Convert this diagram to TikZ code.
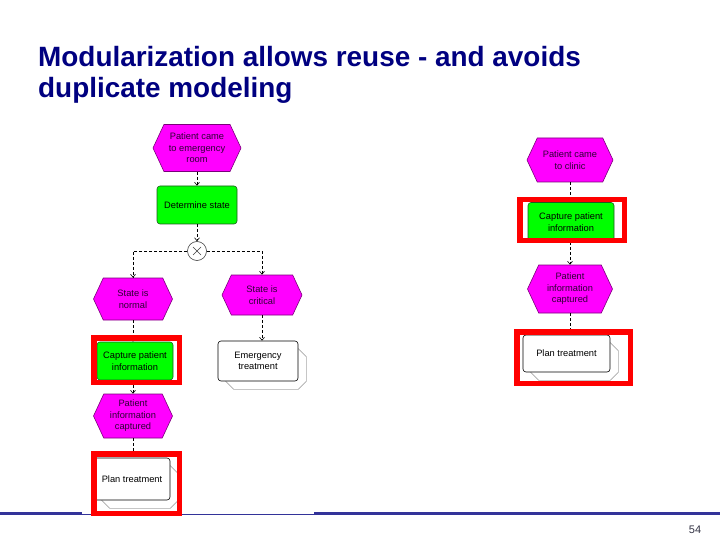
\documentclass[tikz,border=0pt]{standalone}
\usepackage{fontspec}
\setmainfont{Liberation Sans}
\usetikzlibrary{shapes.symbols,arrows.meta}
\definecolor{evfill}{HTML}{FF00FF}
\definecolor{evline}{HTML}{7A007A}
\definecolor{evtext}{HTML}{2E0035}
\definecolor{fnfill}{HTML}{00FF00}
\definecolor{fnline}{HTML}{1E5A1E}
\definecolor{framered}{HTML}{FF0000}
\definecolor{titleblue}{HTML}{000080}
\definecolor{rulecol}{HTML}{333399}
\definecolor{shadowgray}{HTML}{A8A8A8}
\definecolor{pagecol}{HTML}{333344}
\newcommand{\pifshadow}[1]{%
  \filldraw[draw=shadowgray, fill=white, line width=0.6pt]
    ([shift={(8,8)}]#1.north west) -- ([shift={(0,8)}]#1.north east)
    -- ([shift={(8,16)}]#1.north east) -- ([shift={(8,0)}]#1.south east)
    -- ([shift={(0,8)}]#1.south east) -- ([shift={(16,8)}]#1.south west)
    -- ([shift={(8,0)}]#1.south west) -- cycle;}
\begin{document}
\begin{tikzpicture}[x=1pt,y=-1pt,
  lbl/.style={font=\fontsize{9.3}{11.5}\selectfont, align=center},
  evt/.style={lbl, signal, signal to=east and west, signal pointer angle=130,
    draw=evline, fill=evfill, text=evtext, inner sep=1pt, line width=0.6pt},
  fn/.style={lbl, rectangle, rounded corners=3pt, draw=fnline, fill=fnfill,
    text=black, inner sep=1pt, line width=0.6pt},
  pif/.style={lbl, rectangle, rounded corners=3pt, draw=black, fill=white,
    text=black, inner sep=1pt, line width=0.6pt},
  conn/.style={dash pattern=on 3pt off 2pt, line width=0.6pt,
    -{Straight Barb[length=3pt,width=5pt]}},
  plain/.style={dash pattern=on 3pt off 2pt, line width=0.6pt},
  redframe/.style={draw=framered, line width=5.5pt},
  xorc/.style={circle, draw=black!75, fill=white, minimum size=19pt, inner sep=0pt,
    line width=0.6pt,
    path picture={
      \draw[line width=0.6pt] ([shift={(-4pt,-4pt)}]path picture bounding box.center)
        -- ([shift={(4pt,4pt)}]path picture bounding box.center);
      \draw[line width=0.6pt] ([shift={(-4pt,4pt)}]path picture bounding box.center)
        -- ([shift={(4pt,-4pt)}]path picture bounding box.center);}}
]
\useasboundingbox (0,0) rectangle (720,540);

% title
\node[anchor=base west, inner sep=0pt, text=titleblue,
  font=\fontsize{27.9}{32}\selectfont\bfseries] (t1) at (38,67)
  {Modularization allows reuse - and avoids};
\node[anchor=base west, inner sep=0pt, text=titleblue,
  font=\fontsize{27.9}{32}\selectfont\bfseries] (t2) at (38,98)
  {duplicate modeling};

% bottom rule
\draw[rulecol, line width=3pt] (0,513.5) -- (82,513.5);
\draw[rulecol, line width=1pt] (82,514) -- (314,514);
\draw[rulecol, line width=3pt] (314,513.5) -- (720,513.5);
\node[font=\fontsize{11}{13}\selectfont, text=pagecol] (pg) at (695,530) {54};

% ---------- left model ----------
\node[evt, minimum width=88pt, minimum height=47pt] (e1) at (197,148)
  {Patient came\\to emergency\\room};
\node[fn, minimum width=80pt, minimum height=38pt] (f1) at (197,205) {Determine state};
\node[xorc] (x1) at (197,251) {};
\node[evt, minimum width=79pt, minimum height=42pt] (n1) at (133,299) {State is\\normal};
\node[evt, minimum width=80pt, minimum height=40pt] (c1) at (262,295) {State is\\critical};
\node[fn, minimum width=76pt, minimum height=38pt] (cap1) at (135,361)
  {Capture patient\\information};
\node[evt, minimum width=79pt, minimum height=44pt] (p1) at (133,416)
  {Patient\\information\\captured};
\path (258,361) node[pif, minimum width=80pt, minimum height=40pt, opacity=0] (emg) {};
\pifshadow{emg}
\node[pif, minimum width=80pt, minimum height=40pt] (em) at (258,361)
  {Emergency\\treatment};
\path (132,479) node[pif, minimum width=76pt, minimum height=42pt, opacity=0] (pl1g) {};
\pifshadow{pl1g}
\node[pif, minimum width=76pt, minimum height=42pt] (pl1) at (132,479) {Plan treatment};

\draw[conn] (e1.south) -- (f1.north);
\draw[conn] (f1.south) -- (x1.north);
\draw[conn] (x1.west) -| (n1.north);
\draw[conn] (x1.east) -| (c1.north);
\draw[conn] (n1.south) -- (n1.south |- cap1.north);
\draw[conn] (c1.south) -- (c1.south |- em.north);
\draw[conn] (p1.north |- cap1.south) -- (p1.north);
\draw[plain] (p1.south) -- (p1.south |- pl1.north);

\draw[redframe] (93.75,337.75) rectangle (179.25,382.25);
\draw[redframe] (93.75,453.75) rectangle (179.25,513.25);

% ---------- right model ----------
\node[evt, minimum width=86pt, minimum height=44pt] (e2) at (570,160)
  {Patient came\\to clinic};
\node[fn, minimum width=86pt, minimum height=39pt] (cap2) at (571,222)
  {Capture patient\\information};
\node[evt, minimum width=85pt, minimum height=48pt] (p2) at (570,289)
  {Patient\\information\\captured};
\path (566.5,353.5) node[pif, minimum width=87pt, minimum height=37pt, opacity=0] (pl2g) {};
\pifshadow{pl2g}
\node[pif, minimum width=87pt, minimum height=37pt] (pl2) at (566.5,353.5) {Plan treatment};

\draw[conn] (e2.south) -- (e2.south |- cap2.north);
\draw[conn] (p2.north |- cap2.south) -- (p2.north);
\draw[conn] (p2.south) -- (p2.south |- pl2.north);

\draw[redframe] (519.75,199.75) rectangle (624.25,240.25);
\draw[redframe] (516.75,331.75) rectangle (630.25,383.25);
\end{tikzpicture}
\end{document}
